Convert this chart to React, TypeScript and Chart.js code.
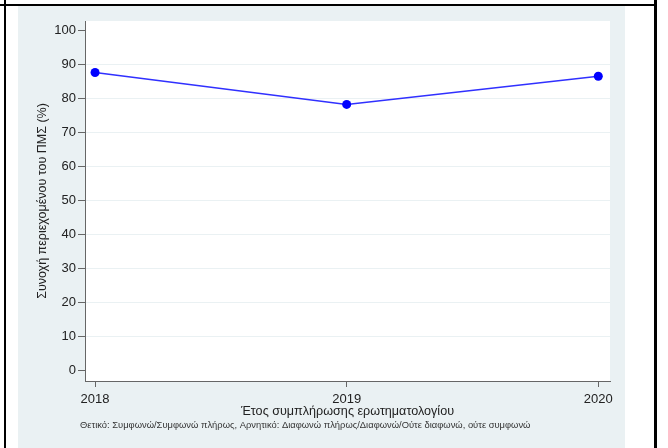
import React, { useEffect, useRef } from "react";
import { Chart, registerables } from "chart.js";

Chart.register(...registerables);

// ---- data ----
const years: number[] = [2018, 2019, 2020];
const cohesion: number[] = [87.7, 78.3, 86.6];
const xTicks: number[] = [2018, 2019, 2020];
const yTicks: number[] = [0, 10, 20, 30, 40, 50, 60, 70, 80, 90, 100];
const yTitle = "Συνοχή περιεχομένου του ΠΜΣ (%)";
const xTitle = "Έτος συμπλήρωσης ερωτηματολογίου";
const note =
  "Θετικό: Συμφωνώ/Συμφωνώ πλήρως, Αρνητικό: Διαφωνώ πλήρως/Διαφωνώ/Ούτε διαφωνώ, ούτε συμφωνώ";

const FONT = '"Liberation Sans", Arial, sans-serif';
const BG = "#eaf1f3";
const AXIS = "#666666";
const TEXT = "#222222";

const plotBg = {
  id: "plotBg",
  beforeDraw(chart: any) {
    const { ctx, chartArea } = chart;
    ctx.save();
    ctx.fillStyle = "#ffffff";
    ctx.fillRect(
      chartArea.left,
      chartArea.top,
      chartArea.right - chartArea.left,
      chartArea.bottom - chartArea.top
    );
    ctx.restore();
  },
};

const notePlugin = {
  id: "notePlugin",
  afterDraw(chart: any) {
    const { ctx, chartArea } = chart;
    ctx.save();
    ctx.font = `9.4px ${FONT}`;
    ctx.fillStyle = "#333333";
    ctx.textAlign = "left";
    ctx.textBaseline = "middle";
    ctx.fillText(note, chartArea.left - 5, chart.height - 23);
    ctx.restore();
  },
};

export default function App() {
  const ref = useRef<HTMLCanvasElement | null>(null);

  useEffect(() => {
    if (!ref.current) return;
    const chart = new Chart(ref.current, {
      type: "line",
      data: {
        datasets: [
          {
            data: years.map((y, i) => ({ x: y, y: cohesion[i] })),
            borderColor: "#3030ff",
            backgroundColor: "#0000ff",
            pointBackgroundColor: "#0000ff",
            pointBorderColor: "#0000ff",
            pointRadius: 4.5,
            pointBorderWidth: 0,
            borderWidth: 1.6,
            tension: 0,
            fill: false,
          },
        ],
      },
      options: {
        animation: false,
        responsive: false,
        maintainAspectRatio: false,
        layout: { padding: { top: 15, right: 15, left: 0, bottom: 0 } },
        plugins: {
          legend: { display: false },
          tooltip: { enabled: false },
        },
        scales: {
          x: {
            type: "linear",
            min: 2017.96,
            max: 2020.0465,
            afterBuildTicks: (s: any) => {
              s.ticks = xTicks.map((v) => ({ value: v }));
            },
            afterFit: (s: any) => {
              s.height = 67;
            },
            grid: {
              drawOnChartArea: false,
              drawTicks: true,
              tickLength: 6,
              tickColor: AXIS,
            },
            border: { color: AXIS, width: 1 },
            ticks: {
              callback: (v: any) => String(v),
              font: { family: FONT, size: 13 },
              color: TEXT,
              padding: 5,
              maxRotation: 0,
              autoSkip: false,
            },
            title: {
              display: true,
              text: xTitle,
              font: { family: FONT, size: 12.6 },
              color: TEXT,
              padding: { top: 0, bottom: 28.5 },
            },
          },
          y: {
            type: "linear",
            min: -3.1,
            max: 102.86,
            afterBuildTicks: (s: any) => {
              s.ticks = yTicks.map((v) => ({ value: v }));
            },
            afterFit: (s: any) => {
              s.width = 67;
            },
            grid: {
              color: (c: any) =>
                c.tick && (c.tick.value === 0 || c.tick.value === 100)
                  ? "rgba(0,0,0,0)"
                  : BG,
              lineWidth: 1,
              drawTicks: true,
              tickLength: 7,
              tickColor: AXIS,
            },
            border: { color: AXIS, width: 1 },
            ticks: {
              callback: (v: any) => String(v),
              font: { family: FONT, size: 13 },
              color: TEXT,
              padding: 2,
            },
            title: {
              display: true,
              text: yTitle,
              font: { family: FONT, size: 12.5 },
              color: TEXT,
              padding: { top: 17, bottom: 0 },
            },
          },
        },
      },
      plugins: [plotBg, notePlugin],
    } as any);
    return () => chart.destroy();
  }, []);

  return (
    <div
      style={{
        position: "absolute",
        left: 0,
        top: 0,
        width: 668,
        height: 448,
        background: "#ffffff",
        overflow: "hidden",
      }}
    >
      <canvas
        ref={ref}
        width={607}
        height={442}
        style={{
          position: "absolute",
          left: 18,
          top: 6,
          width: 607,
          height: 442,
          background: BG,
        }}
      />
      <div style={{ position: "absolute", left: 4, top: 0, width: 2, height: 448, background: "#000" }} />
      <div style={{ position: "absolute", left: 0, top: 4, width: 656, height: 2, background: "#000" }} />
      <div style={{ position: "absolute", left: 654, top: 0, width: 3, height: 448, background: "#000" }} />
    </div>
  );
}
